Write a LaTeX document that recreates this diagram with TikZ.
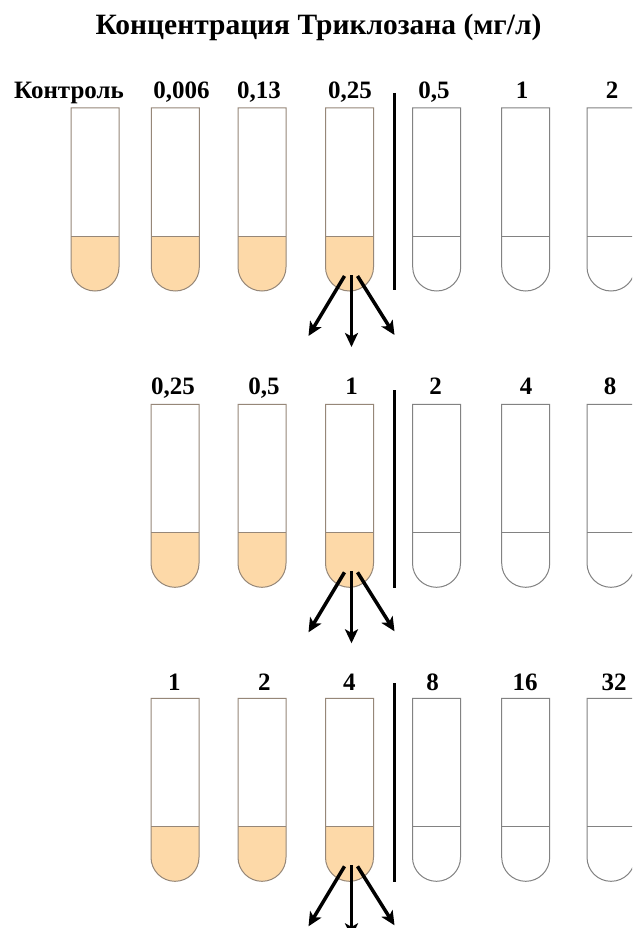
\documentclass[tikz,border=0pt]{standalone}
\usepackage{fontspec}
\setmainfont{Liberation Serif}
\usetikzlibrary{arrows.meta}

\definecolor{broth}{RGB}{253,217,168}
\definecolor{glass}{RGB}{130,130,130}
\definecolor{brothedge}{RGB}{150,135,120}

\tikzset{
  tubeline/.style={draw=glass, line width=1},
  conc/.style={font=\fontsize{25}{28}\bfseries\selectfont, anchor=base, inner sep=0},
  headline/.style={font=\fontsize{29.5}{33}\bfseries\selectfont, anchor=base, inner sep=0},
  divider/.style={line width=3, black},
  transfer/.style={line width=3.5, black, -{Stealth[length=14,width=13,inset=3.5]}},
}

% a test tube: #1 name of its bottom point, #2 centre x, #3 top y, #4 fill of the broth, #5 outline
\newcommand\testtube[5]{%
  \begin{scope}[shift={(#2,#3)}]
    \fill[#4] (-24,128) -- (-24,159) arc[start angle=180,end angle=0,radius=24] -- (24,128) -- cycle;
    \draw[tubeline, draw=#5] (-24,0) -- (-24,159) arc[start angle=180,end angle=0,radius=24] -- (24,0) -- cycle;
    \draw[tubeline, draw=#5] (-24,128) -- (24,128);
    \coordinate (#1) at (0,183);
  \end{scope}}

% three arrows spreading out of the bottom of a tube
\newcommand\fanout[1]{%
  \coordinate (#1-ls) at ([shift={(-5,-15)}]#1);
  \coordinate (#1-ms) at ([shift={(2,-16)}]#1);
  \coordinate (#1-rs) at ([shift={(8,-15)}]#1);
  \coordinate (#1-le) at ([shift={(-41,45)}]#1);
  \coordinate (#1-me) at ([shift={(2,56)}]#1);
  \coordinate (#1-re) at ([shift={(45,44)}]#1);
  \draw[transfer] (#1-ls) -- (#1-le);
  \draw[transfer] (#1-ms) -- (#1-me);
  \draw[transfer] (#1-rs) -- (#1-re);}

\begin{document}
\begin{tikzpicture}[x=1pt,y=-1pt]
  \useasboundingbox (0,0) rectangle (632,928);
  \clip (0,0) rectangle (632,928);
  \fill[white] (0,0) rectangle (632,928);

  \node[headline] (title) at (318.5,35) {Концентрация Триклозана (мг/л)};

  % first series
  \node[conc] (a1) at (69,98.3) {Контроль};
  \node[conc] (a2) at (181.5,98.3) {0,006};
  \node[conc] (a3) at (259,98.3) {0,13};
  \node[conc] (a4) at (350,98.3) {0,25};
  \node[conc] (a5) at (434,98.3) {0,5};
  \node[conc] (a6) at (522,98.3) {1};
  \node[conc] (a7) at (612,98.3) {2};
  \testtube{ta1}{95}{108}{broth}{brothedge}
  \testtube{ta2}{175.3}{108}{broth}{brothedge}
  \testtube{ta3}{262}{108}{broth}{brothedge}
  \testtube{ta4}{349.5}{108}{broth}{brothedge}
  \testtube{ta5}{436.7}{108}{white}{glass}
  \testtube{ta6}{525.7}{108}{white}{glass}
  \testtube{ta7}{611}{108}{white}{glass}
  \draw[divider] (394,93) -- (394,290);
  \fanout{ta4}

  % second series
  \node[conc] (b1) at (173,394) {0,25};
  \node[conc] (b2) at (264,394) {0,5};
  \node[conc] (b3) at (351.5,394) {1};
  \node[conc] (b4) at (435.7,394) {2};
  \node[conc] (b5) at (526,394) {4};
  \node[conc] (b6) at (610,394) {8};
  \testtube{tb1}{175}{404.3}{broth}{brothedge}
  \testtube{tb2}{262}{404.3}{broth}{brothedge}
  \testtube{tb3}{349.5}{404.3}{broth}{brothedge}
  \testtube{tb4}{436.5}{404.3}{white}{glass}
  \testtube{tb5}{525.7}{404.3}{white}{glass}
  \testtube{tb6}{611}{404.3}{white}{glass}
  \draw[divider] (394,390) -- (394,588);
  \fanout{tb3}

  % third series
  \node[conc] (c1) at (174.3,690.5) {1};
  \node[conc] (c2) at (264.3,690.5) {2};
  \node[conc] (c3) at (349.3,690.5) {4};
  \node[conc] (c4) at (432.7,690.5) {8};
  \node[conc] (c5) at (525,690.5) {16};
  \node[conc] (c6) at (614,690.5) {32};
  \testtube{tc1}{175}{698.3}{broth}{brothedge}
  \testtube{tc2}{262}{698.3}{broth}{brothedge}
  \testtube{tc3}{349.5}{698.3}{broth}{brothedge}
  \testtube{tc4}{436.5}{698.3}{white}{glass}
  \testtube{tc5}{525.7}{698.3}{white}{glass}
  \testtube{tc6}{611}{698.3}{white}{glass}
  \draw[divider] (394,683) -- (394,882);
  \fanout{tc3}
\end{tikzpicture}
\end{document}
